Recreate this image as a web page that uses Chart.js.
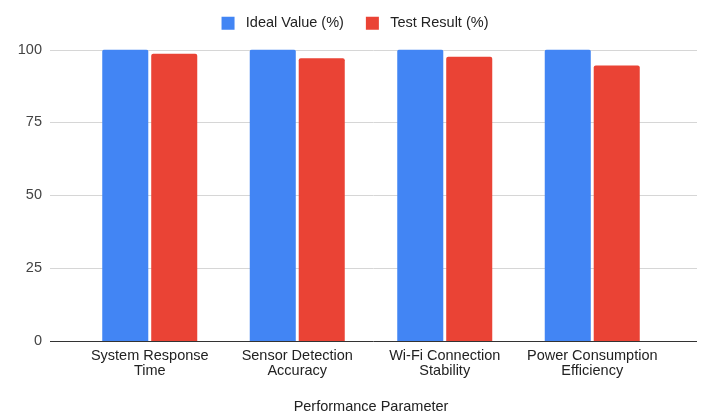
<!DOCTYPE html>
<html>
<head>
<meta charset="utf-8">
<script src="https://cdn.jsdelivr.net/npm/chart.js@4/dist/chart.umd.min.js"></script>
<style>
  html, body { margin: 0; padding: 0; background: #ffffff; }
  #wrap { width: 701px; height: 412px; position: relative; }
</style>
</head>
<body>
<div id="wrap"><canvas id="chart"></canvas></div>
<script>
// Performance test results against the ideal target, per parameter
const categories = [
  ["System Response", "Time"],
  ["Sensor Detection", "Accuracy"],
  ["Wi-Fi Connection", "Stability"],
  ["Power Consumption", "Efficiency"]
];
const idealValues = [100, 100, 100, 100];
const testResults = [98.5, 97, 97.5, 94.5];
const yTicks = [0, 25, 50, 75, 100];
const seriesNames = ["Ideal Value (%)", "Test Result (%)"];
const xAxisTitle = "Performance Parameter";

const FONT = "'Liberation Sans', Arial, sans-serif";
Chart.defaults.font.family = FONT;
Chart.defaults.font.size = 14.5;
Chart.defaults.color = "#222222";

// Horizontal gridlines that run a little past the plot on both sides,
// plus a dark baseline at zero drawn over the bars.
const gridPlugin = {
  id: "hgrid",
  beforeDatasetsDraw(chart) {
    const y = chart.scales.y, ctx = chart.ctx, area = chart.chartArea;
    ctx.save();
    ctx.lineWidth = 1;
    ctx.strokeStyle = "#d6d6d6";
    y.ticks.forEach(t => {
      if (t.value === 0) return;
      const py = Math.round(y.getPixelForValue(t.value)) + 0.5;
      ctx.beginPath();
      ctx.moveTo(area.left - 26, py);
      ctx.lineTo(area.right + 31, py);
      ctx.stroke();
    });
    ctx.restore();
  },
  afterDatasetsDraw(chart) {
    const y = chart.scales.y, ctx = chart.ctx, area = chart.chartArea;
    const py = Math.round(y.getPixelForValue(0)) + 0.5;
    ctx.save();
    ctx.lineWidth = 1;
    ctx.strokeStyle = "#333333";
    ctx.beginPath();
    ctx.moveTo(area.left - 26, py);
    ctx.lineTo(area.right + 31, py);
    ctx.stroke();
    ctx.restore();
  }
};

// Nudge the legend row up and to the right after layout.
const legendShift = {
  id: "legendShift",
  afterLayout(chart) {
    const lg = chart.legend;
    if (!lg) return;
    lg.left += 22; lg.right += 22;
    lg.top -= 9; lg.bottom -= 9;
  }
};

new Chart(document.getElementById("chart"), {
  type: "bar",
  data: {
    labels: categories,
    datasets: [
      {
        label: seriesNames[0],
        data: idealValues,
        backgroundColor: "#4285F4",
        borderRadius: { topLeft: 2, topRight: 2 },
        borderSkipped: "start"
      },
      {
        label: seriesNames[1],
        data: testResults,
        backgroundColor: "#EA4335",
        borderRadius: { topLeft: 2, topRight: 2 },
        borderSkipped: "start"
      }
    ]
  },
  options: {
    responsive: true,
    maintainAspectRatio: false,
    devicePixelRatio: 1,
    animation: false,
    datasets: {
      bar: { categoryPercentage: 0.664, barPercentage: 0.94 }
    },
    layout: { padding: { left: 0, right: 35, top: 3, bottom: 0 } },
    plugins: {
      legend: {
        position: "top",
        labels: {
          boxWidth: 13,
          boxHeight: 13,
          padding: 22,
          color: "#222222",
          font: { size: 14.5 },
          generateLabels(chart) {
            const items = Chart.defaults.plugins.legend.labels.generateLabels(chart);
            items.forEach(it => { it.text = " " + it.text; });
            return items;
          }
        }
      },
      tooltip: { enabled: false }
    },
    scales: {
      x: {
        grid: { display: false, drawTicks: false },
        border: { display: false },
        ticks: {
          padding: 7,
          color: "#222222",
          font: { size: 14.5, lineHeight: "15px" },
          maxRotation: 0,
          autoSkip: false
        },
        title: {
          display: true,
          text: xAxisTitle,
          color: "#222222",
          font: { size: 14.5, lineHeight: "10px" },
          padding: { top: 17, bottom: 0 }
        }
      },
      y: {
        min: 0,
        max: 100,
        grid: { display: false, drawTicks: false },
        border: { display: false },
        afterBuildTicks(scale) {
          scale.ticks = yTicks.map(v => ({ value: v }));
        },
        afterFit(scale) { scale.width = 76; },
        ticks: {
          padding: 34,
          color: "#444444",
          font: { size: 14.5 }
        }
      }
    }
  },
  plugins: [gridPlugin, legendShift]
});
</script>
</body>
</html>
